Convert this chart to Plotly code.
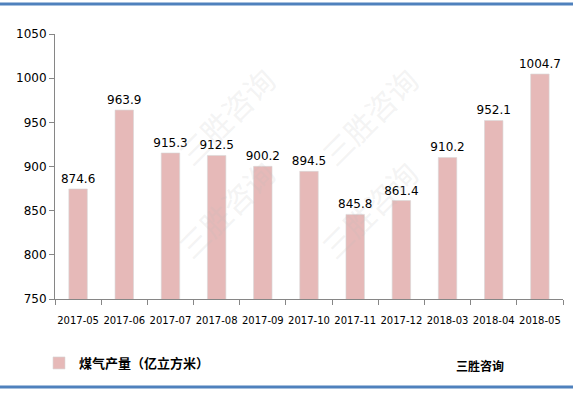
import plotly.graph_objects as go

categories = ["2017-05", "2017-06", "2017-07", "2017-08", "2017-09", "2017-10",
              "2017-11", "2017-12", "2018-03", "2018-04", "2018-05"]
values = [874.6, 963.9, 915.3, 912.5, 900.2, 894.5, 845.8, 861.4, 910.2, 952.1, 1004.7]
labels = [f"{v:.1f}" for v in values]
series_name = "煤气产量（亿立方米）"
source_text = "三胜咨询"
y_ticks = [750, 800, 850, 900, 950, 1000, 1050]

W, H = 573, 394
L, R, T, B = 55, 10, 34, 95
pw, ph = W - L - R, H - T - B

def px_x(x):
    return (x - L) / pw

def px_y(y):
    return (H - B - y) / ph

fig = go.Figure()
fig.add_trace(go.Bar(
    x=categories, y=values, name=series_name,
    marker=dict(color="#E6B9B8", line=dict(color="#D9D9D9", width=0.6)),
    width=0.4,
    text=labels, textposition="outside", cliponaxis=False, constraintext="none",
    textfont=dict(family="DejaVu Sans", size=12, color="#000000"),
    showlegend=True,
))

annotations = []
# faint watermarks
for cx, cy in [(165, 55), (430, 55), (165, 270), (430, 270)]:
    annotations.append(dict(
        x=px_x(cx), y=px_y(cy), xref="paper", yref="paper", text="三胜咨询",
        showarrow=False, textangle=-45,
        font=dict(family="Noto Sans CJK SC", size=30, color="rgba(190,190,190,0.18)"),
    ))
annotations.append(dict(
    x=px_x(480), y=px_y(365), xref="paper", yref="paper", text="<b>" + source_text + "</b>",
    showarrow=False, xanchor="center", yanchor="middle",
    font=dict(family="Noto Sans CJK SC", size=12, color="#000000"),
))

shapes = [
    dict(type="line", xref="paper", yref="paper", x0=px_x(0), x1=px_x(W), y0=px_y(4), y1=px_y(4),
         line=dict(color="#4F81BD", width=3)),
    dict(type="line", xref="paper", yref="paper", x0=px_x(0), x1=px_x(W), y0=px_y(387), y1=px_y(387),
         line=dict(color="#4F81BD", width=3)),
]

fig.update_layout(
    width=W, height=H,
    margin=dict(l=L, r=R, t=T, b=B),
    paper_bgcolor="white", plot_bgcolor="white",
    font=dict(family="DejaVu Sans", color="#000000"),
    bargap=0.6,
    xaxis=dict(
        type="category", showline=True, linecolor="#868686", linewidth=1,
        ticks="outside", ticklen=5, tickcolor="#868686", tickson="boundaries",
        tickfont=dict(family="DejaVu Sans", size=10, color="#000000"),
        ticklabelstandoff=12,
        showgrid=False, tickangle=0, fixedrange=True,
    ),
    yaxis=dict(
        range=[750, 1050], tickvals=y_ticks, showline=True, linecolor="#868686", linewidth=1,
        ticks="outside", ticklen=5, tickcolor="#868686",
        tickfont=dict(family="DejaVu Sans", size=12, color="#000000"),
        showgrid=False, zeroline=False, fixedrange=True,
    ),
    legend=dict(
        x=px_x(39), y=px_y(363), xanchor="left", yanchor="middle", orientation="h",
        font=dict(family="Noto Sans CJK SC", size=13, color="#000000", weight="bold"),
        bgcolor="rgba(0,0,0,0)", itemwidth=30,
    ),
    annotations=annotations,
    shapes=shapes,
)

fig.write_html("out.html")
